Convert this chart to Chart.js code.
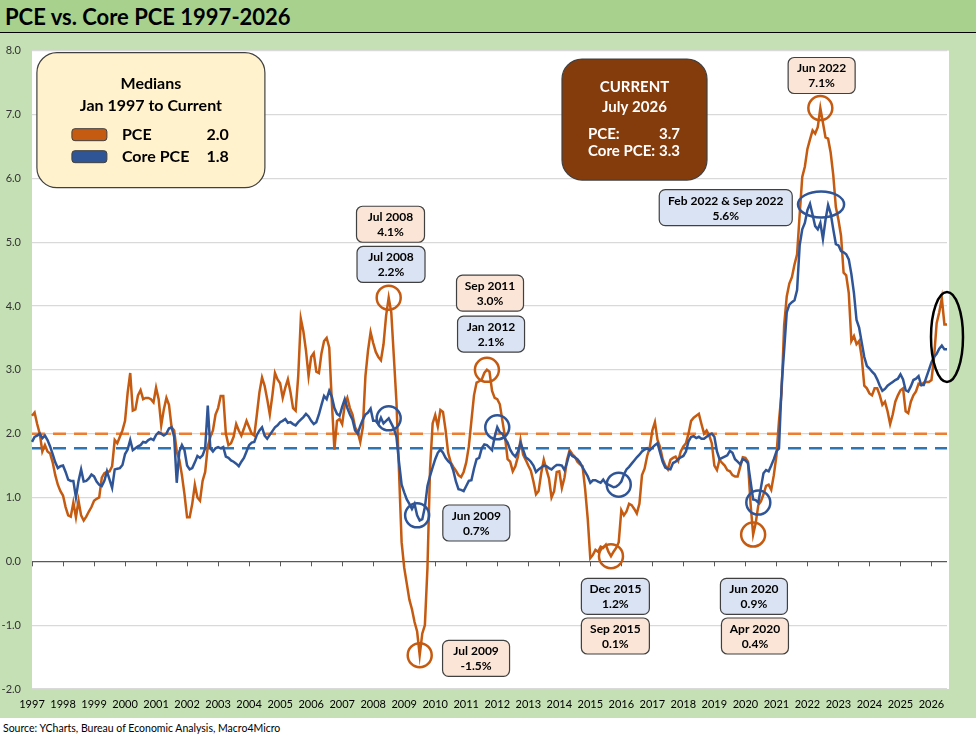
<!DOCTYPE html>
<html>
<head>
<meta charset="utf-8">
<title>PCE vs. Core PCE 1997-2026</title>
<script src="https://cdn.jsdelivr.net/npm/chart.js@4.4.1/dist/chart.umd.min.js"></script>
<style>
  html, body { margin: 0; padding: 0; background: #fff; }
  #frame { position: absolute; left: 0; top: 0; width: 976px; height: 718px; background: #c5e0b4; }
  #title { position: absolute; left: 0; top: 0; width: 976px; height: 33px; box-sizing: border-box;
           background: #a9d18e; border-bottom: 1px solid #000; padding-left: 5px;
           font: bold 22px Lato, sans-serif; line-height: 34px; color: #000; }
  #wrap { position: absolute; left: 0; top: 33px; width: 976px; height: 685px; }
  #source { position: absolute; left: 3px; top: 722px; font: 10.5px Lato, sans-serif; color: #000; }
</style>
</head>
<body>
<div id="frame">
  <div id="title">PCE vs. Core PCE 1997-2026</div>
  <div id="wrap"><canvas id="chart" width="976" height="685"></canvas></div>
</div>
<div id="source">Source: YCharts, Bureau of Economic Analysis, Macro4Micro</div>
<script>
// monthly y/y %, Jan 1997 .. Jul 2026
const firstYear = 1997;
const monthNames = ['Jan', 'Feb', 'Mar', 'Apr', 'May', 'Jun', 'Jul', 'Aug', 'Sep', 'Oct', 'Nov', 'Dec'];

const pce = [
  2.28, 2.33, 2.15, 2.0, 1.72, 1.82, 1.72, 1.69, 1.55, 1.35, 1.2, 1.1,      // 1997
  1.03, 0.85, 0.72, 0.7, 0.92, 0.69, 0.95, 0.72, 0.64, 0.7, 0.78, 0.85,    // 1998
  0.95, 0.98, 1.0, 1.31, 1.38, 1.4, 1.41, 1.49, 1.9, 1.85, 1.95, 2.05,     // 1999
  2.2, 2.64, 2.95, 2.36, 2.38, 2.6, 2.68, 2.54, 2.56, 2.56, 2.54, 2.49,    // 2000
  2.72, 2.54, 2.13, 2.38, 2.56, 2.45, 2.1, 2.05, 1.72, 1.59, 1.35, 1.05,   // 2001
  0.69, 0.69, 0.9, 1.2, 1.0, 0.95, 1.26, 1.4, 1.8, 1.95, 2.05, 2.3,        // 2002
  2.4, 2.59, 2.59, 2.0, 1.82, 1.85, 1.95, 2.15, 2.05, 1.97, 2.08, 2.2,     // 2003
  2.1, 2.0, 1.97, 2.3, 2.65, 2.88, 2.75, 2.54, 2.3, 2.6, 2.95, 2.85,       // 2004
  2.79, 2.56, 2.72, 2.85, 2.65, 2.4, 2.36, 2.9, 3.8, 3.6, 3.3, 2.9,        // 2005
  3.2, 3.26, 2.97, 2.95, 3.26, 3.45, 3.5, 3.35, 2.5, 1.75, 2.2, 2.23,      // 2006
  2.15, 2.45, 2.56, 2.4, 2.3, 2.1, 2.03, 1.87, 2.1, 2.9, 3.3, 3.59,        // 2007
  3.42, 3.28, 3.2, 3.15, 3.4, 3.85, 4.13, 3.9, 3.2, 2.5, 1.4, 0.3,         // 2008
  -0.1, -0.35, -0.6, -0.75, -0.95, -1.1, -1.47, -1.13, -1.0, -0.1, 1.45, 2.16, // 2009
  2.29, 2.11, 2.37, 2.34, 2.06, 1.7, 1.55, 1.48, 1.42, 1.35, 1.32, 1.4,    // 2010
  1.55, 1.8, 2.2, 2.6, 2.8, 2.82, 2.85, 2.95, 3.0, 2.97, 2.67, 2.56,       // 2011
  2.54, 2.46, 2.2, 1.95, 1.6, 1.56, 1.41, 1.49, 1.64, 1.9, 1.67, 1.59,     // 2012
  1.5, 1.42, 1.25, 1.05, 1.1, 1.38, 1.59, 1.44, 1.3, 1.0, 1.1, 1.4,        // 2013
  1.41, 1.15, 1.31, 1.59, 1.74, 1.68, 1.64, 1.56, 1.52, 1.49, 1.13, 0.67,  // 2014
  0.05, 0.1, 0.18, 0.15, 0.23, 0.21, 0.26, 0.15, 0.08, 0.15, 0.21, 0.3,    // 2015
  0.8, 0.72, 0.78, 0.9, 0.88, 0.82, 0.75, 0.9, 1.35, 1.45, 1.65, 1.78,     // 2016
  2.05, 2.18, 1.9, 1.79, 1.6, 1.5, 1.44, 1.59, 1.62, 1.64, 1.57, 1.72,     // 2017
  1.8, 1.85, 2.0, 2.2, 2.25, 2.28, 2.31, 2.15, 2.0, 2.05, 1.97, 1.85,      // 2018
  1.5, 1.43, 1.59, 1.54, 1.5, 1.43, 1.41, 1.35, 1.33, 1.33, 1.48, 1.63,    // 2019
  1.62, 1.56, 0.9, 0.42, 0.6, 0.88, 0.94, 1.05, 1.18, 1.2, 1.12, 1.35,     // 2020
  1.65, 2.2, 2.64, 3.7, 4.15, 4.35, 4.45, 4.65, 4.81, 5.43, 6.02, 6.18,    // 2021
  6.46, 6.61, 6.75, 6.7, 6.8, 7.1, 6.87, 6.64, 6.62, 6.4, 6.05, 5.55,      // 2022
  5.35, 5.1, 4.52, 4.48, 4.2, 3.45, 3.53, 3.4, 3.45, 3.2, 2.75, 2.71,      // 2023
  2.63, 2.6, 2.71, 2.71, 2.6, 2.45, 2.5, 2.35, 2.15, 2.3, 2.5, 2.6,        // 2024
  2.68, 2.71, 2.35, 2.32, 2.5, 2.6, 2.66, 2.78, 2.76, 2.8, 2.81, 2.81,     // 2025
  2.84, 3.2, 3.73, 3.9, 4.12, 3.71, 3.71                                  // 2026
];

const corePce = [
  1.87, 1.95, 1.97, 2.0, 1.93, 1.97, 1.9, 1.8, 1.68, 1.55, 1.46, 1.49,     // 1997
  1.5, 1.4, 1.28, 1.26, 1.26, 1.0, 1.26, 1.44, 1.25, 1.26, 1.3, 1.36,      // 1998
  1.33, 1.25, 1.2, 1.18, 1.26, 1.41, 1.28, 1.15, 1.44, 1.45, 1.46, 1.51,   // 1999
  1.68, 1.75, 1.9, 1.74, 1.77, 1.8, 1.82, 1.87, 1.86, 1.9, 1.92, 1.9,      // 2000
  1.98, 2.02, 2.0, 1.97, 2.0, 2.08, 2.1, 1.95, 1.23, 1.72, 1.82, 1.74,     // 2001
  1.5, 1.44, 1.46, 1.55, 1.65, 1.62, 1.66, 1.77, 2.44, 1.77, 1.72, 1.77,   // 2002
  1.79, 1.77, 1.79, 1.64, 1.62, 1.58, 1.56, 1.53, 1.49, 1.56, 1.62, 1.72,  // 2003
  1.82, 1.86, 1.87, 1.98, 2.05, 2.1, 1.97, 1.92, 1.98, 2.04, 2.1, 2.13,    // 2004
  2.18, 2.2, 2.23, 2.17, 2.18, 2.15, 2.13, 2.18, 2.22, 2.26, 2.31, 2.27,   // 2005
  2.2, 2.15, 2.18, 2.3, 2.45, 2.59, 2.54, 2.67, 2.58, 2.4, 2.31, 2.28,     // 2006
  2.42, 2.54, 2.4, 2.3, 2.22, 2.05, 2.0, 2.12, 2.22, 2.3, 2.33, 2.39,      // 2007
  2.2, 2.2, 2.15, 2.25, 2.16, 2.2, 2.24, 2.16, 2.08, 1.95, 1.55, 1.2,      // 2008
  1.08, 0.97, 0.9, 0.82, 0.9, 0.72, 0.64, 0.66, 0.85, 1.18, 1.34, 1.47,    // 2009
  1.6, 1.7, 1.75, 1.7, 1.62, 1.57, 1.53, 1.42, 1.25, 1.13, 1.12, 1.1,      // 2010
  1.18, 1.26, 1.27, 1.45, 1.6, 1.62, 1.77, 1.83, 1.82, 1.78, 1.74, 1.95,   // 2011
  2.1, 2.02, 2.0, 1.92, 1.86, 1.75, 1.68, 1.64, 1.72, 1.85, 1.75, 1.63,    // 2012
  1.6, 1.56, 1.5, 1.4, 1.44, 1.47, 1.5, 1.49, 1.46, 1.44, 1.48, 1.51,      // 2013
  1.51, 1.5, 1.43, 1.55, 1.7, 1.65, 1.63, 1.6, 1.55, 1.47, 1.4, 1.33,      // 2014
  1.23, 1.27, 1.27, 1.25, 1.23, 1.28, 1.22, 1.2, 1.18, 1.16, 1.17, 1.2,    // 2015
  1.25, 1.36, 1.44, 1.48, 1.53, 1.58, 1.63, 1.67, 1.72, 1.75, 1.77, 1.74,  // 2016
  1.78, 1.82, 1.85, 1.7, 1.56, 1.47, 1.45, 1.44, 1.54, 1.56, 1.6, 1.63,    // 2017
  1.65, 1.72, 1.88, 1.95, 1.96, 1.93, 1.95, 1.92, 1.92, 1.95, 1.98, 2.0,   // 2018
  1.95, 1.72, 1.6, 1.62, 1.64, 1.66, 1.73, 1.7, 1.6, 1.56, 1.52, 1.6,      // 2019
  1.58, 1.54, 1.25, 0.97, 0.96, 0.92, 1.15, 1.38, 1.43, 1.41, 1.5, 1.6,    // 2020
  1.72, 1.77, 2.75, 3.31, 3.9, 4.02, 4.06, 4.09, 4.25, 4.95, 5.2, 5.3,     // 2021
  5.5, 5.6, 5.43, 5.25, 5.2, 5.3, 5.05, 5.35, 5.58, 5.45, 5.2, 4.97,       // 2022
  4.95, 4.86, 4.84, 4.81, 4.73, 4.5, 4.2, 3.78, 3.66, 3.43, 3.2, 3.06,     // 2023
  3.02, 2.97, 2.93, 2.85, 2.75, 2.67, 2.7, 2.75, 2.78, 2.81, 2.84, 2.86,   // 2024
  2.93, 2.85, 2.68, 2.66, 2.74, 2.84, 2.86, 2.9, 2.76, 2.76, 2.88, 3.0,    // 2025
  3.12, 3.2, 3.25, 3.33, 3.38, 3.32, 3.32                                 // 2026
];

// medians Jan 1997 to current: PCE, Core PCE
const medians = [2.0, 1.77];
const medianLabels = ['2.0', '1.8'];

const labels = pce.map((_, i) => monthNames[i % 12] + ' ' + (firstYear + Math.floor(i / 12)));

const FONT = 'Lato, sans-serif';
const ORANGE = '#c55a11', BLUE = '#2f5597';
Chart.defaults.font.family = FONT;

// circled points
const marks = [
  { s: 'pce', at: 'Jul 2008' }, { s: 'core', at: 'Jul 2008' },
  { s: 'pce', at: 'Jul 2009' }, { s: 'core', at: 'Jun 2009' },
  { s: 'pce', at: 'Sep 2011' }, { s: 'core', at: 'Jan 2012' },
  { s: 'pce', at: 'Sep 2015' }, { s: 'core', at: 'Dec 2015' },
  { s: 'pce', at: 'Apr 2020' }, { s: 'core', at: 'Jun 2020' },
  { s: 'pce', at: 'Jun 2022' }
];

// callout boxes, centred at [month index, value]
const callouts = [
  { text: ['Jul 2008', '4.1%'], s: 'pce', at: [138.7, 5.28], w: 68 },
  { text: ['Jul 2008', '2.2%'], s: 'core', at: [138.9, 4.65], w: 68 },
  { text: ['Sep 2011', '3.0%'], s: 'pce', at: [177.2, 4.2], w: 67 },
  { text: ['Jan 2012', '2.1%'], s: 'core', at: [177.6, 3.56], w: 67 },
  { text: ['Jun 2009', '0.7%'], s: 'core', at: [171.9, 0.6], w: 67 },
  { text: ['Jul 2009', '-1.5%'], s: 'pce', at: [171.8, -1.52], w: 67 },
  { text: ['Dec 2015', '1.2%'], s: 'core', at: [225.7, -0.55], w: 68 },
  { text: ['Sep 2015', '0.1%'], s: 'pce', at: [225.7, -1.17], w: 68 },
  { text: ['Jun 2020', '0.9%'], s: 'core', at: [279.3, -0.55], w: 67 },
  { text: ['Apr 2020', '0.4%'], s: 'pce', at: [279.7, -1.17], w: 67 },
  { text: ['Jun 2022', '7.1%'], s: 'pce', at: [305.5, 7.61], w: 67 },
  { text: ['Feb 2022 & Sep 2022', '5.6%'], s: 'core', at: [268.4, 5.54], w: 133 }
];

function rrect(ctx, x, y, w, h, r) {
  ctx.beginPath();
  ctx.moveTo(x + r, y);
  ctx.arcTo(x + w, y, x + w, y + h, r);
  ctx.arcTo(x + w, y + h, x, y + h, r);
  ctx.arcTo(x, y + h, x, y, r);
  ctx.arcTo(x, y, x + w, y, r);
  ctx.closePath();
}

const plotBg = {
  id: 'plotBg',
  beforeDraw(chart) {
    const a = chart.chartArea, ctx = chart.ctx;
    ctx.save();
    ctx.fillStyle = '#fff';
    ctx.fillRect(a.left, a.top, a.right - a.left + 2, a.bottom - a.top);
    ctx.restore();
  }
};

// tick marks on the zero line, one per January
const zeroTicks = {
  id: 'zeroTicks',
  beforeDatasetsDraw(chart) {
    const xs = chart.scales.x, ys = chart.scales.y, ctx = chart.ctx;
    const y0 = ys.getPixelForValue(0);
    ctx.save();
    ctx.strokeStyle = '#595959';
    ctx.lineWidth = 1;
    ctx.beginPath();
    for (let i = 0; i < labels.length; i += 12) {
      const x = Math.round(xs.getPixelForValue(i)) + 0.5;
      ctx.moveTo(x, y0);
      ctx.lineTo(x, y0 + 5);
    }
    ctx.stroke();
    ctx.restore();
  }
};

const notes = {
  id: 'notes',
  afterDraw(chart) {
    const xs = chart.scales.x, ys = chart.scales.y, ctx = chart.ctx;
    const series = { pce: pce, core: corePce };
    const col = { pce: ORANGE, core: BLUE };
    const fill = { pce: '#fbe5d6', core: '#dae3f3' };
    ctx.save();

    // circles
    ctx.lineWidth = 2.5;
    marks.forEach(m => {
      const i = labels.indexOf(m.at);
      ctx.strokeStyle = col[m.s];
      ctx.beginPath();
      ctx.arc(xs.getPixelForValue(i), ys.getPixelForValue(series[m.s][i]), 12, 0, Math.PI * 2);
      ctx.stroke();
    });

    // Feb 2022 & Sep 2022 core peaks
    const a = labels.indexOf('Feb 2022'), b = labels.indexOf('Sep 2022');
    const xa = xs.getPixelForValue(a), xb = xs.getPixelForValue(b);
    const ye = ys.getPixelForValue((corePce[a] + corePce[b]) / 2);
    ctx.strokeStyle = BLUE;
    ctx.beginPath();
    ctx.ellipse((xa + xb) / 2 + 2, ye, (xb - xa) / 2 + 14, 13, 0, 0, Math.PI * 2);
    ctx.stroke();

    // latest readings
    const last = labels.length - 1;
    ctx.strokeStyle = '#000';
    ctx.beginPath();
    ctx.ellipse(xs.getPixelForValue(last), ys.getPixelForValue((pce[last] + corePce[last]) / 2), 16, 45, 0, 0, Math.PI * 2);
    ctx.stroke();

    // callout boxes
    ctx.textAlign = 'center';
    ctx.textBaseline = 'middle';
    ctx.font = 'bold 12px ' + FONT;
    callouts.forEach(c => {
      const cx = xs.getPixelForValue(c.at[0]), cy = ys.getPixelForValue(c.at[1]);
      rrect(ctx, cx - c.w / 2, cy - 18, c.w, 36, 6);
      ctx.fillStyle = fill[c.s];
      ctx.fill();
      ctx.lineWidth = 1.2;
      ctx.strokeStyle = '#404040';
      ctx.stroke();
      ctx.fillStyle = '#000';
      ctx.fillText(c.text[0], cx, cy - 7);
      ctx.fillText(c.text[1], cx, cy + 8);
    });

    // medians box
    let L = xs.getPixelForValue(46.0) - 114, T = ys.getPixelForValue(6.91) - 67.5;
    rrect(ctx, L, T, 228, 135, 20);
    ctx.fillStyle = '#fff2cc';
    ctx.fill();
    ctx.lineWidth = 1.2;
    ctx.strokeStyle = '#404040';
    ctx.stroke();
    ctx.fillStyle = '#000';
    ctx.font = 'bold 16px ' + FONT;
    ctx.textAlign = 'center';
    ctx.fillText('Medians', L + 114, T + 31);
    ctx.fillText('Jan 1997 to Current', L + 114, T + 53);
    [['PCE', ORANGE, 82], ['Core PCE', BLUE, 104]].forEach((r, k) => {
      rrect(ctx, L + 35, T + r[2] - 6, 35, 12, 3);
      ctx.fillStyle = r[1];
      ctx.fill();
      ctx.lineWidth = 1;
      ctx.strokeStyle = '#404040';
      ctx.stroke();
      ctx.fillStyle = '#000';
      ctx.textAlign = 'left';
      ctx.fillText(r[0], L + 85, T + r[2]);
      ctx.textAlign = 'right';
      ctx.fillText(medianLabels[k], L + 192, T + r[2]);
    });

    // current box
    L = xs.getPixelForValue(233.1) - 72.5; T = ys.getPixelForValue(6.92) - 60.5;
    rrect(ctx, L, T, 145, 121, 20);
    ctx.fillStyle = '#843c0c';
    ctx.fill();
    ctx.lineWidth = 1.2;
    ctx.strokeStyle = '#404040';
    ctx.stroke();
    ctx.fillStyle = '#fff';
    ctx.font = 'bold 15px ' + FONT;
    ctx.textAlign = 'center';
    ctx.fillText('CURRENT', L + 72.5, T + 28);
    ctx.fillText('July 2026', L + 72.5, T + 48);
    ctx.textAlign = 'left';
    ctx.fillText('PCE:', L + 26, T + 75);
    ctx.fillText('Core PCE:', L + 26, T + 92);
    ctx.textAlign = 'right';
    ctx.fillText(pce[last].toFixed(1), L + 118, T + 75);
    ctx.fillText(corePce[last].toFixed(1), L + 118, T + 92);

    ctx.restore();
  }
};

new Chart(document.getElementById('chart'), {
  type: 'line',
  data: {
    labels: labels,
    datasets: [
      { label: 'Core PCE', data: corePce, borderColor: BLUE, borderWidth: 2.5, order: 1 },
      { label: 'PCE', data: pce, borderColor: ORANGE, borderWidth: 2.5, order: 2 },
      { label: 'PCE median', data: labels.map(() => medians[0]), borderColor: '#ed7d31',
        borderWidth: 2.5, borderDash: [13, 8], order: 3 },
      { label: 'Core PCE median', data: labels.map(() => medians[1]), borderColor: '#2e75b6',
        borderWidth: 2.5, borderDash: [13, 8], order: 4 }
    ]
  },
  options: {
    responsive: false,
    animation: false,
    layout: { padding: { left: 0, right: 29, top: 10, bottom: 0 } },
    elements: { point: { radius: 0 }, line: { tension: 0 } },
    plugins: { legend: { display: false }, tooltip: { enabled: false } },
    scales: {
      x: {
        type: 'category',
        offset: false,
        grid: { display: false, drawTicks: false },
        border: { display: false },
        ticks: {
          autoSkip: false, maxRotation: 0, minRotation: 0, padding: 9,
          color: '#000', font: { size: 11 },
          callback: (v, i) => i % 12 === 0 ? String(firstYear + i / 12) : ''
        },
        afterFit: s => { s.height = 29; }
      },
      y: {
        min: -2, max: 8,
        grid: { color: c => c.tick.value === 0 ? '#595959' : '#d9d9d9', lineWidth: 1.2, drawTicks: false },
        border: { display: false },
        ticks: { stepSize: 1, padding: 11, color: '#333', font: { size: 11 }, callback: v => v.toFixed(1) },
        afterFit: s => { s.width = 32; }
      }
    }
  },
  plugins: [plotBg, zeroTicks, notes]
});
</script>
</body>
</html>
